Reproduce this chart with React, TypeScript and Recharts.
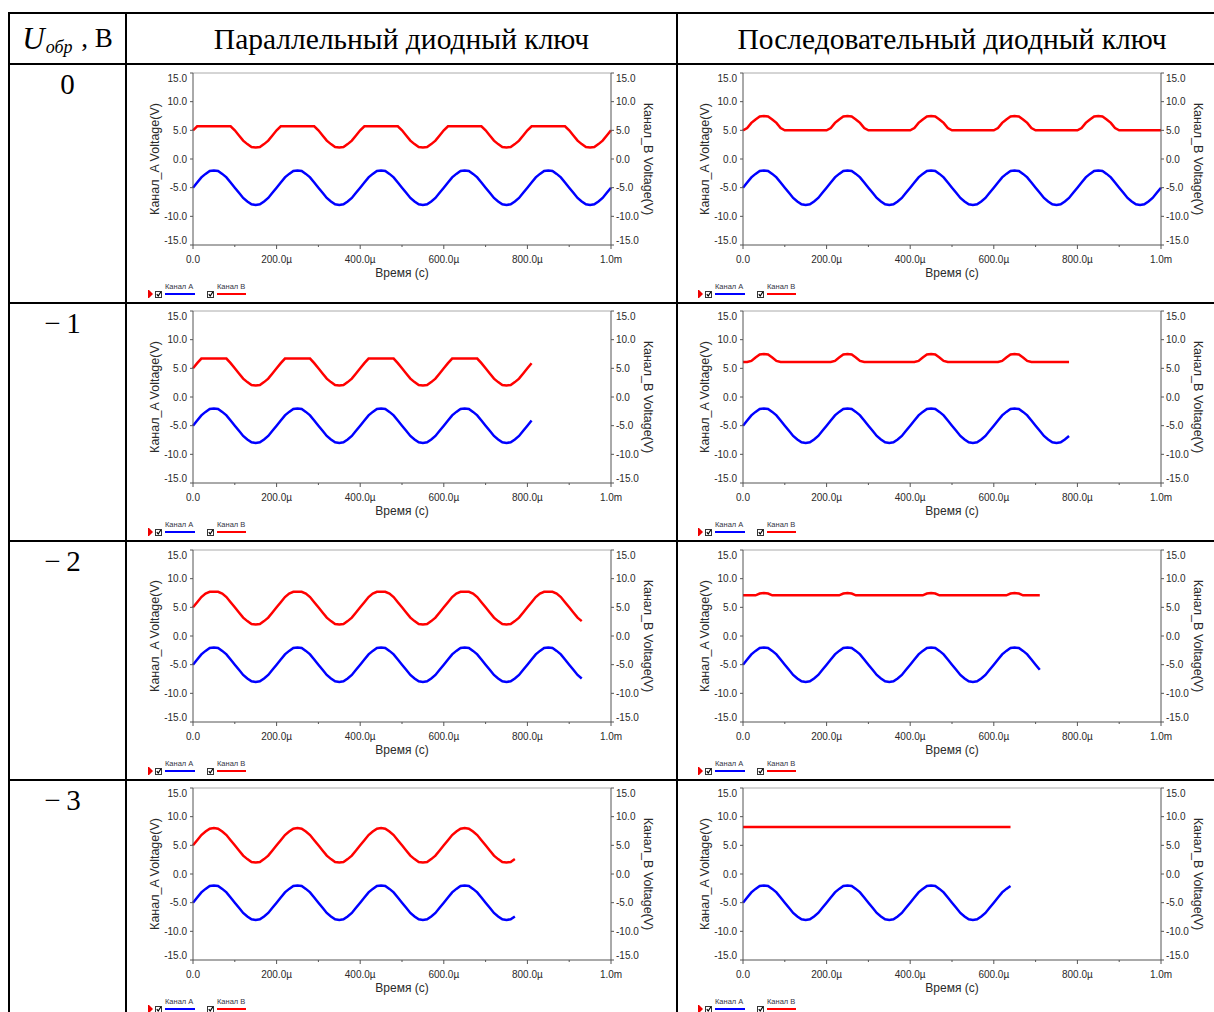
import React from 'react';
import { LineChart, Line, XAxis, YAxis, ReferenceLine } from 'recharts';

// Oscilloscope sampling grid, µs
const TIME_US = [
  0, 10, 20, 30, 40, 50, 60, 70, 80, 90,
  100, 110, 120, 130, 140, 150, 160, 170, 180, 190,
  200, 210, 220, 230, 240, 250, 260, 270, 280, 290,
  300, 310, 320, 330, 340, 350, 360, 370, 380, 390,
  400, 410, 420, 430, 440, 450, 460, 470, 480, 490,
  500, 510, 520, 530, 540, 550, 560, 570, 580, 590,
  600, 610, 620, 630, 640, 650, 660, 670, 680, 690,
  700, 710, 720, 730, 740, 750, 760, 770, 780, 790,
  800, 810, 820, 830, 840, 850, 860, 870, 880, 890,
  900, 910, 920, 930, 940, 950, 960, 970, 980, 990,
  1000,
];

// Канал A — generator signal, identical in every run, V
const CHANNEL_A = [
  -5, -4.1, -3.2, -2.6, -2.1, -2, -2.1, -2.6, -3.2, -4.1, -5, -5.9, -6.8, -7.4, -7.9, -8, -7.9, -7.4, -6.8, -5.9,
  -5, -4.1, -3.2, -2.6, -2.1, -2, -2.1, -2.6, -3.2, -4.1, -5, -5.9, -6.8, -7.4, -7.9, -8, -7.9, -7.4, -6.8, -5.9,
  -5, -4.1, -3.2, -2.6, -2.1, -2, -2.1, -2.6, -3.2, -4.1, -5, -5.9, -6.8, -7.4, -7.9, -8, -7.9, -7.4, -6.8, -5.9,
  -5, -4.1, -3.2, -2.6, -2.1, -2, -2.1, -2.6, -3.2, -4.1, -5, -5.9, -6.8, -7.4, -7.9, -8, -7.9, -7.4, -6.8, -5.9,
  -5, -4.1, -3.2, -2.6, -2.1, -2, -2.1, -2.6, -3.2, -4.1, -5, -5.9, -6.8, -7.4, -7.9, -8, -7.9, -7.4, -6.8, -5.9,
  -5,
];

// Канал B — parallel diode switch, one array per bias voltage, V
const PARALLEL_0 = [
  5, 5.7, 5.7, 5.7, 5.7, 5.7, 5.7, 5.7, 5.7, 5.7, 5, 4.1, 3.2, 2.6, 2.1, 2, 2.1, 2.6, 3.2, 4.1,
  5, 5.7, 5.7, 5.7, 5.7, 5.7, 5.7, 5.7, 5.7, 5.7, 5, 4.1, 3.2, 2.6, 2.1, 2, 2.1, 2.6, 3.2, 4.1,
  5, 5.7, 5.7, 5.7, 5.7, 5.7, 5.7, 5.7, 5.7, 5.7, 5, 4.1, 3.2, 2.6, 2.1, 2, 2.1, 2.6, 3.2, 4.1,
  5, 5.7, 5.7, 5.7, 5.7, 5.7, 5.7, 5.7, 5.7, 5.7, 5, 4.1, 3.2, 2.6, 2.1, 2, 2.1, 2.6, 3.2, 4.1,
  5, 5.7, 5.7, 5.7, 5.7, 5.7, 5.7, 5.7, 5.7, 5.7, 5, 4.1, 3.2, 2.6, 2.1, 2, 2.1, 2.6, 3.2, 4.1,
  5,
];
const PARALLEL_1 = [
  5, 5.9, 6.7, 6.7, 6.7, 6.7, 6.7, 6.7, 6.7, 5.9, 5, 4.1, 3.2, 2.6, 2.1, 2, 2.1, 2.6, 3.2, 4.1,
  5, 5.9, 6.7, 6.7, 6.7, 6.7, 6.7, 6.7, 6.7, 5.9, 5, 4.1, 3.2, 2.6, 2.1, 2, 2.1, 2.6, 3.2, 4.1,
  5, 5.9, 6.7, 6.7, 6.7, 6.7, 6.7, 6.7, 6.7, 5.9, 5, 4.1, 3.2, 2.6, 2.1, 2, 2.1, 2.6, 3.2, 4.1,
  5, 5.9, 6.7, 6.7, 6.7, 6.7, 6.7, 6.7, 6.7, 5.9, 5, 4.1, 3.2, 2.6, 2.1, 2, 2.1, 2.6, 3.2, 4.1,
  5, 5.9,
];
const PARALLEL_2 = [
  5, 5.9, 6.8, 7.4, 7.7, 7.7, 7.7, 7.4, 6.8, 5.9, 5, 4.1, 3.2, 2.6, 2.1, 2, 2.1, 2.6, 3.2, 4.1,
  5, 5.9, 6.8, 7.4, 7.7, 7.7, 7.7, 7.4, 6.8, 5.9, 5, 4.1, 3.2, 2.6, 2.1, 2, 2.1, 2.6, 3.2, 4.1,
  5, 5.9, 6.8, 7.4, 7.7, 7.7, 7.7, 7.4, 6.8, 5.9, 5, 4.1, 3.2, 2.6, 2.1, 2, 2.1, 2.6, 3.2, 4.1,
  5, 5.9, 6.8, 7.4, 7.7, 7.7, 7.7, 7.4, 6.8, 5.9, 5, 4.1, 3.2, 2.6, 2.1, 2, 2.1, 2.6, 3.2, 4.1,
  5, 5.9, 6.8, 7.4, 7.7, 7.7, 7.7, 7.4, 6.8, 5.9, 5, 4.1, 3.2, 2.6,
];
const PARALLEL_3 = [
  5, 5.9, 6.8, 7.4, 7.9, 8, 7.9, 7.4, 6.8, 5.9, 5, 4.1, 3.2, 2.6, 2.1, 2, 2.1, 2.6, 3.2, 4.1,
  5, 5.9, 6.8, 7.4, 7.9, 8, 7.9, 7.4, 6.8, 5.9, 5, 4.1, 3.2, 2.6, 2.1, 2, 2.1, 2.6, 3.2, 4.1,
  5, 5.9, 6.8, 7.4, 7.9, 8, 7.9, 7.4, 6.8, 5.9, 5, 4.1, 3.2, 2.6, 2.1, 2, 2.1, 2.6, 3.2, 4.1,
  5, 5.9, 6.8, 7.4, 7.9, 8, 7.9, 7.4, 6.8, 5.9, 5, 4.1, 3.2, 2.6, 2.1, 2, 2.1, 2.6,
];

// Канал B — series diode switch, V
const SERIES_0 = [
  5, 5.4, 6.3, 6.9, 7.4, 7.5, 7.4, 6.9, 6.3, 5.4, 5, 5, 5, 5, 5, 5, 5, 5, 5, 5,
  5, 5.4, 6.3, 6.9, 7.4, 7.5, 7.4, 6.9, 6.3, 5.4, 5, 5, 5, 5, 5, 5, 5, 5, 5, 5,
  5, 5.4, 6.3, 6.9, 7.4, 7.5, 7.4, 6.9, 6.3, 5.4, 5, 5, 5, 5, 5, 5, 5, 5, 5, 5,
  5, 5.4, 6.3, 6.9, 7.4, 7.5, 7.4, 6.9, 6.3, 5.4, 5, 5, 5, 5, 5, 5, 5, 5, 5, 5,
  5, 5.4, 6.3, 6.9, 7.4, 7.5, 7.4, 6.9, 6.3, 5.4, 5, 5, 5, 5, 5, 5, 5, 5, 5, 5,
  5,
];
const SERIES_1 = [
  6.1, 6.1, 6.3, 6.9, 7.4, 7.5, 7.4, 6.9, 6.3, 6.1, 6.1, 6.1, 6.1, 6.1, 6.1, 6.1, 6.1, 6.1, 6.1, 6.1,
  6.1, 6.1, 6.3, 6.9, 7.4, 7.5, 7.4, 6.9, 6.3, 6.1, 6.1, 6.1, 6.1, 6.1, 6.1, 6.1, 6.1, 6.1, 6.1, 6.1,
  6.1, 6.1, 6.3, 6.9, 7.4, 7.5, 7.4, 6.9, 6.3, 6.1, 6.1, 6.1, 6.1, 6.1, 6.1, 6.1, 6.1, 6.1, 6.1, 6.1,
  6.1, 6.1, 6.3, 6.9, 7.4, 7.5, 7.4, 6.9, 6.3, 6.1, 6.1, 6.1, 6.1, 6.1, 6.1, 6.1, 6.1, 6.1, 6.1,
];
const SERIES_2 = [
  7.1, 7.1, 7.1, 7.1, 7.4, 7.5, 7.4, 7.1, 7.1, 7.1, 7.1, 7.1, 7.1, 7.1, 7.1, 7.1, 7.1, 7.1, 7.1, 7.1,
  7.1, 7.1, 7.1, 7.1, 7.4, 7.5, 7.4, 7.1, 7.1, 7.1, 7.1, 7.1, 7.1, 7.1, 7.1, 7.1, 7.1, 7.1, 7.1, 7.1,
  7.1, 7.1, 7.1, 7.1, 7.4, 7.5, 7.4, 7.1, 7.1, 7.1, 7.1, 7.1, 7.1, 7.1, 7.1, 7.1, 7.1, 7.1, 7.1, 7.1,
  7.1, 7.1, 7.1, 7.1, 7.4, 7.5, 7.4, 7.1, 7.1, 7.1, 7.1, 7.1,
];
const SERIES_3 = [
  8.2, 8.2, 8.2, 8.2, 8.2, 8.2, 8.2, 8.2, 8.2, 8.2, 8.2, 8.2, 8.2, 8.2, 8.2, 8.2, 8.2, 8.2, 8.2, 8.2,
  8.2, 8.2, 8.2, 8.2, 8.2, 8.2, 8.2, 8.2, 8.2, 8.2, 8.2, 8.2, 8.2, 8.2, 8.2, 8.2, 8.2, 8.2, 8.2, 8.2,
  8.2, 8.2, 8.2, 8.2, 8.2, 8.2, 8.2, 8.2, 8.2, 8.2, 8.2, 8.2, 8.2, 8.2, 8.2, 8.2, 8.2, 8.2, 8.2, 8.2,
  8.2, 8.2, 8.2, 8.2, 8.2,
];

const BIAS_LABELS = ['0', '−\u20091', '−\u20092', '−\u20093'];
const COLUMN_TITLES = ['Параллельный диодный ключ', 'Последовательный диодный ключ'];
const CHANNEL_NAMES = ['Канал A', 'Канал B'];
const Y_TICKS = [-15, -10, -5, 0, 5, 10, 15];
const X_TICKS = [0, 100, 200, 300, 400, 500, 600, 700, 800, 900, 1000];
const X_TICK_LABELS: Record<number, string> = {
  0: '0.0',
  200: '200.0µ',
  400: '400.0µ',
  600: '600.0µ',
  800: '800.0µ',
  1000: '1.0m',
};

// rows: bias 0, -1, -2, -3; columns: parallel, series
const PANELS = [
  [PARALLEL_0, SERIES_0],
  [PARALLEL_1, SERIES_1],
  [PARALLEL_2, SERIES_2],
  [PARALLEL_3, SERIES_3],
];

const BLUE = '#0000ff';
const RED = '#ff0000';
const INK = '#2a2a2a';
const SANS = '"Liberation Sans", Arial, sans-serif';
const SERIF = '"Liberation Serif", "Times New Roman", serif';

// table grid
const ROW_LINES = [63, 302, 540, 779];
const COL_LINES = [8, 125, 676];
const PLOT_LEFT = [193, 743];
const PLOT_TOP = [73, 311, 550, 788];

const PLOT_W = 418;
const PLOT_H = 172;
const AXIS_W = 60;
const PAD_TOP = 8;
const AXIS_H = 60;

const XTick = (props: any) => {
  const { x, y, payload } = props;
  const label = X_TICK_LABELS[payload.value];
  return (
    <g>
      <line x1={x} x2={x} y1={y} y2={y + (label ? 4 : 2)} stroke="#555" />
      {label && (
        <text x={x} y={y + 18} textAnchor="middle" fontSize={10} fill={INK} fontFamily={SANS}>
          {label}
        </text>
      )}
    </g>
  );
};

const YTick = (props: any) => {
  const { x, y, payload, textAnchor } = props;
  const v = payload.value;
  // end labels are pulled inside the frame like in the scope window
  const shift = v === 15 ? 5 : v === -15 ? -5 : 0;
  return (
    <text x={x} y={y + shift + 3.5} textAnchor={textAnchor} fontSize={10} fill={INK} fontFamily={SANS}>
      {v.toFixed(1)}
    </text>
  );
};

const axisTitle = (text: string, dx: number, angle: number) => ({ viewBox }: any) => {
  const cx = viewBox.x + dx;
  const cy = viewBox.y + viewBox.height / 2;
  return (
    <text
      x={cx}
      y={cy}
      dy={4}
      textAnchor="middle"
      transform={`rotate(${angle}, ${cx}, ${cy})`}
      fontSize={12.5}
      fill={INK}
      fontFamily={SANS}
    >
      {text}
    </text>
  );
};

const timeTitle = ({ viewBox }: any) => (
  <text
    x={viewBox.x + viewBox.width / 2}
    y={viewBox.y + 32}
    textAnchor="middle"
    fontSize={12}
    fill={INK}
    fontFamily={SANS}
  >
    Время (с)
  </text>
);

const CheckBox: React.FC<{ x: number }> = ({ x }) => (
  <g>
    <rect x={x + 0.5} y={10.5} width={6} height={6} fill="#fff" stroke="#333" />
    <polyline points={`${x + 1.8},${13.2} ${x + 3.2},${15} ${x + 5.8},${11}`} fill="none" stroke="#000" strokeWidth={1.2} />
  </g>
);

const ScopeLegend: React.FC = () => (
  <svg width={130} height={20} style={{ position: 'absolute', left: 12, top: 216 }}>
    <rect x={3} y={9} width={1} height={8} fill="#e00" />
    <polygon points="4,9 8,13 4,17" fill="#e00" />
    <CheckBox x={10} />
    <text x={20} y={8} fontSize={7.5} fill="#334" fontFamily={SANS}>{CHANNEL_NAMES[0]}</text>
    <line x1={20} x2={50} y1={13} y2={13} stroke={BLUE} strokeWidth={2} />
    <CheckBox x={62} />
    <text x={72} y={8} fontSize={7.5} fill="#334" fontFamily={SANS}>{CHANNEL_NAMES[1]}</text>
    <line x1={72} x2={101} y1={13} y2={13} stroke={RED} strokeWidth={2} />
  </svg>
);

const Scope: React.FC<{ channelB: number[]; left: number; top: number }> = ({ channelB, left, top }) => {
  const data = channelB.map((b, i) => ({ t: TIME_US[i], a: CHANNEL_A[i], b }));
  return (
    <div style={{ position: 'absolute', left: left - AXIS_W, top: top - PAD_TOP }}>
      <LineChart
        width={PLOT_W + AXIS_W * 2}
        height={PLOT_H + PAD_TOP + AXIS_H}
        data={data}
        margin={{ top: PAD_TOP, right: 0, bottom: 0, left: 0 }}
      >
        <XAxis
          dataKey="t"
          type="number"
          domain={[0, 1000]}
          ticks={X_TICKS}
          interval={0}
          tick={<XTick />}
          tickLine={false}
          tickSize={0}
          tickMargin={0}
          height={AXIS_H}
          stroke="#555"
          label={{ content: timeTitle }}
        />
        <YAxis
          yAxisId="a"
          type="number"
          domain={[-15, 15]}
          ticks={Y_TICKS}
          interval={0}
          width={AXIS_W}
          tick={<YTick />}
          tickSize={3}
          tickMargin={3}
          stroke="#555"
          label={{ content: axisTitle('Канал_A Voltage(V)', 22, -90) }}
        />
        <YAxis
          yAxisId="b"
          orientation="right"
          type="number"
          domain={[-15, 15]}
          ticks={Y_TICKS}
          interval={0}
          width={AXIS_W}
          tick={<YTick />}
          tickSize={3}
          tickMargin={2}
          stroke="#555"
          label={{ content: axisTitle('Канал_B Voltage(V)', 37, 90) }}
        />
        <ReferenceLine yAxisId="a" y={15} stroke="#aaa" />
        <Line
          yAxisId="a"
          dataKey="a"
          type="linear"
          stroke={BLUE}
          strokeWidth={2.5}
          dot={false}
          isAnimationActive={false}
        />
        <Line
          yAxisId="b"
          dataKey="b"
          type="linear"
          stroke={RED}
          strokeWidth={2.5}
          dot={false}
          isAnimationActive={false}
        />
      </LineChart>
      <ScopeLegend />
    </div>
  );
};

const HLine: React.FC<{ y: number }> = ({ y }) => (
  <div style={{ position: 'absolute', left: 8, top: y, width: 1240, height: 2, background: '#000' }} />
);
const VLine: React.FC<{ x: number }> = ({ x }) => (
  <div style={{ position: 'absolute', left: x, top: 12, width: 2, height: 1100, background: '#000' }} />
);

export default function App() {
  return (
    <div
      style={{
        position: 'fixed',
        left: 0,
        top: 0,
        width: 1214,
        height: 1012,
        overflow: 'hidden',
        background: '#fff',
        fontFamily: SERIF,
        color: '#000',
      }}
    >
      <HLine y={12} />
      {ROW_LINES.map((y) => (
        <HLine key={y} y={y} />
      ))}
      {COL_LINES.map((x) => (
        <VLine key={x} x={x} />
      ))}

      {/* header */}
      <div
        style={{
          position: 'absolute',
          left: 10,
          top: 14,
          width: 115,
          height: 49,
          display: 'flex',
          alignItems: 'center',
          justifyContent: 'center',
          whiteSpace: 'nowrap',
        }}
      >
        <span style={{ fontStyle: 'italic', fontSize: 31 }}>U</span>
        <span style={{ fontStyle: 'italic', fontSize: 18, position: 'relative', top: 9, marginLeft: 1 }}>обр</span>
        <span style={{ fontSize: 27, marginLeft: 2 }}>&nbsp;, В</span>
      </div>
      {COLUMN_TITLES.map((title, i) => (
        <div
          key={title}
          style={{
            position: 'absolute',
            left: i === 0 ? 127 : 678,
            top: 14,
            width: i === 0 ? 549 : 548,
            height: 51,
            display: 'flex',
            alignItems: 'center',
            justifyContent: 'center',
            fontSize: 29.5,
            whiteSpace: 'nowrap',
          }}
        >
          {title}
        </div>
      ))}

      {/* bias voltage column */}
      {BIAS_LABELS.map((label, r) => (
        <div
          key={label}
          style={{
            position: 'absolute',
            left: 10,
            top: ROW_LINES[r] + 5,
            width: label.length > 1 ? 105 : 115,
            textAlign: 'center',
            fontSize: 29,
            lineHeight: '32px',
            whiteSpace: 'nowrap',
          }}
        >
          {label}
        </div>
      ))}

      {PANELS.map((row, r) =>
        row.map((channelB, c) => (
          <Scope key={`${r}-${c}`} channelB={channelB} left={PLOT_LEFT[c]} top={PLOT_TOP[r]} />
        )),
      )}
    </div>
  );
}
